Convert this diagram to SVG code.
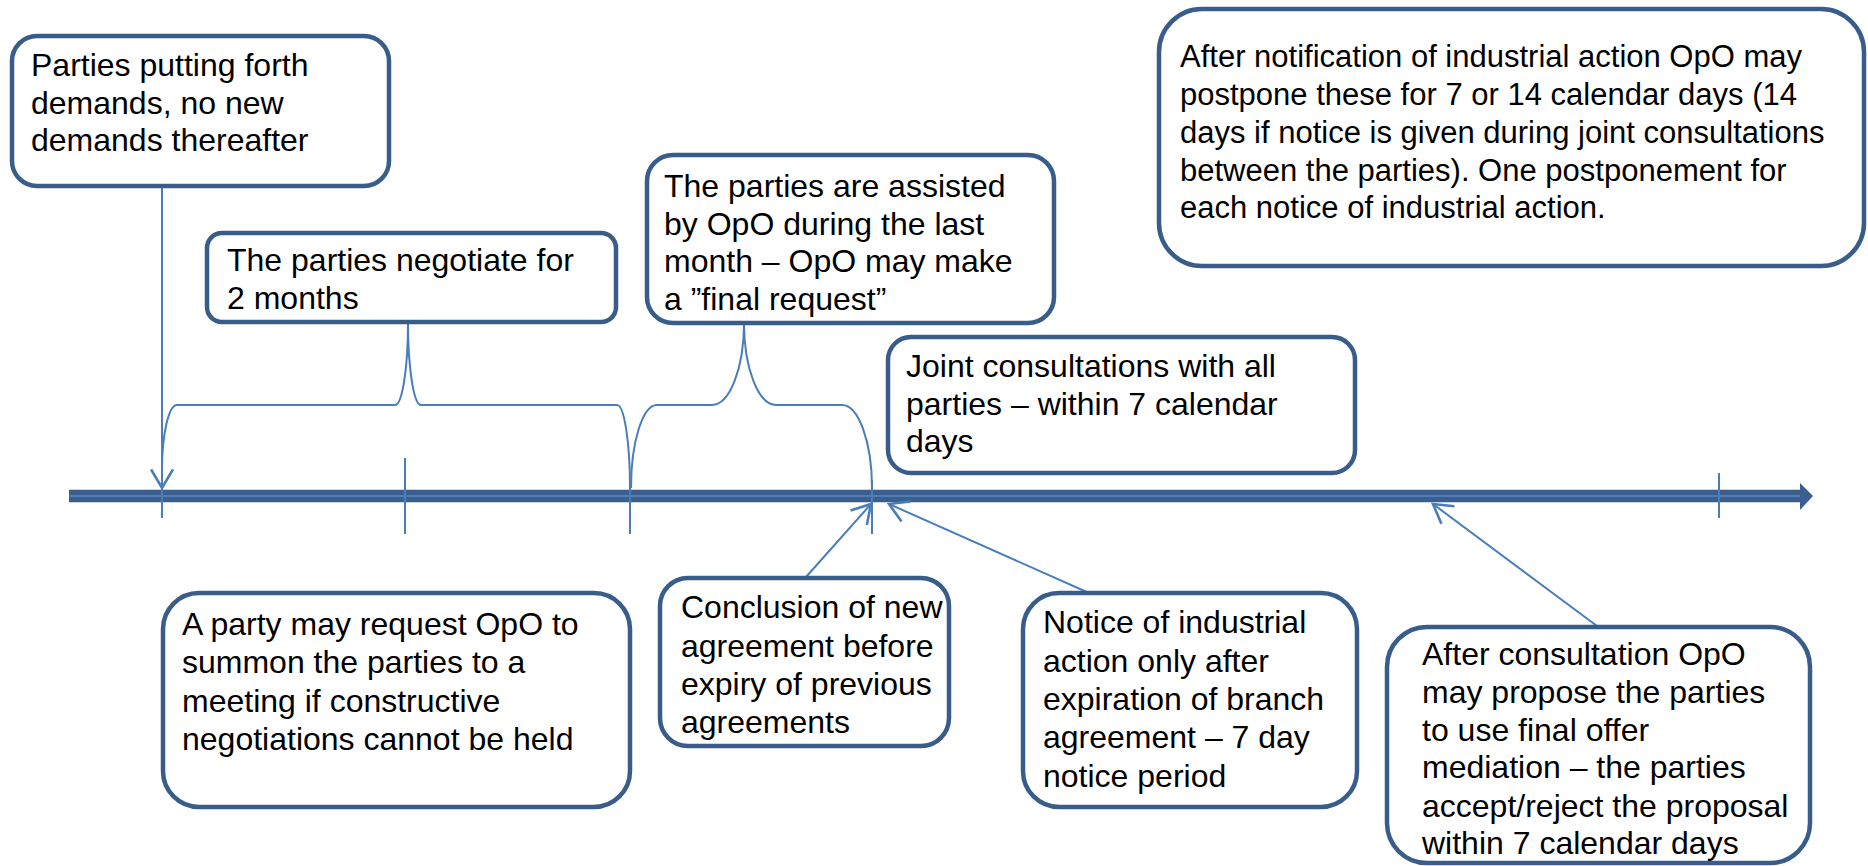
<svg xmlns="http://www.w3.org/2000/svg" width="1868" height="866" viewBox="0 0 1868 866">
<defs>
<style>
.box{fill:#fff;stroke:#385D8A;stroke-width:4.5}
.t{font-family:"Liberation Sans",Arial,sans-serif;font-size:32px;fill:#000}
.t31{font-size:31px}
.c{fill:none;stroke:#4A7EBB;stroke-width:2}
</style>
<marker id="ah" markerUnits="userSpaceOnUse" markerWidth="24" markerHeight="24" refX="18" refY="11" orient="auto" viewBox="0 0 22 22">
<path d="M1,1 L18,11 L1,21" fill="none" stroke="#4A7EBB" stroke-width="2.4"/>
</marker>
</defs>
<rect width="1868" height="866" fill="#fff"/>

<g id="connectors">
<!-- axis -->
<line x1="69" y1="496" x2="1802" y2="496" stroke="#3A5F8F" stroke-width="12.5"/>
<line x1="69" y1="496" x2="1802" y2="496" stroke="#5A86C0" stroke-width="1.6"/>
<path d="M1800,483 L1813,496 L1800,510 Z" fill="#3A5F8F"/>
<!-- ticks -->
<line class="c" x1="162" y1="470" x2="162" y2="518"/>
<line class="c" x1="405" y1="458" x2="405" y2="534"/>
<line class="c" x1="630" y1="480" x2="630" y2="534"/>
<line class="c" x1="872" y1="480" x2="872" y2="534"/>
<line class="c" x1="1719" y1="473" x2="1719" y2="518"/>
<!-- braces -->
<path class="c" d="M162,470 A15,65 0 0 1 177,405 L395,405 A13,82 0 0 0 408,323 A13,82 0 0 0 421,405 L617,405 A13,83 0 0 1 630,488"/>
<path class="c" d="M631,488 A26,83 0 0 1 657,405 L712,405 A32,82 0 0 0 744,323 A32,82 0 0 0 776,405 L842,405 A30,83 0 0 1 872,488"/>
<!-- arrows -->
<line class="c" x1="162" y1="187" x2="162" y2="488" marker-end="url(#ah)"/>
<line class="c" x1="806" y1="577" x2="871" y2="504" marker-end="url(#ah)"/>
<line class="c" x1="1089" y1="593" x2="889" y2="504" marker-end="url(#ah)"/>
<line class="c" x1="1597" y1="626" x2="1433" y2="504" marker-end="url(#ah)"/>
</g>

<g id="n1">
<rect class="box" x="12" y="36" width="377" height="150" rx="25"/>
<text class="t"><tspan x="31" y="76">Parties putting forth</tspan><tspan x="31" y="114">demands, no new</tspan><tspan x="31" y="151">demands thereafter</tspan></text>
</g>
<g id="n2">
<rect class="box" x="207" y="233" width="409" height="89" rx="15"/>
<text class="t"><tspan x="227" y="271">The parties negotiate for</tspan><tspan x="227" y="309">2 months</tspan></text>
</g>
<g id="n3">
<rect class="box" x="647" y="155" width="407" height="168" rx="26"/>
<text class="t"><tspan x="664" y="197">The parties are assisted</tspan><tspan x="664" y="235">by OpO during the last</tspan><tspan x="664" y="272">month – OpO may make</tspan><tspan x="664" y="310">a ”final request”</tspan></text>
</g>
<g id="n4">
<rect class="box" x="888" y="337" width="467" height="136" rx="23"/>
<text class="t"><tspan x="906" y="377">Joint consultations with all</tspan><tspan x="906" y="415">parties – within 7 calendar</tspan><tspan x="906" y="452">days</tspan></text>
</g>
<g id="n5">
<rect class="box" x="1159" y="9" width="705" height="257" rx="43"/>
<text class="t t31"><tspan x="1180" y="67">After notification of industrial action OpO may</tspan><tspan x="1180" y="105">postpone these for 7 or 14 calendar days (14</tspan><tspan x="1180" y="143">days if notice is given during joint consultations</tspan><tspan x="1180" y="181">between the parties). One postponement for</tspan><tspan x="1180" y="218">each notice of industrial action.</tspan></text>
</g>
<g id="n6">
<rect class="box" x="163" y="593" width="467" height="214" rx="36"/>
<text class="t"><tspan x="182" y="635">A party may request OpO to</tspan><tspan x="182" y="673">summon the parties to a</tspan><tspan x="182" y="712">meeting if constructive</tspan><tspan x="182" y="750">negotiations cannot be held</tspan></text>
</g>
<g id="n7">
<rect class="box" x="660" y="578" width="289" height="168" rx="28"/>
<text class="t"><tspan x="681" y="618">Conclusion of new</tspan><tspan x="681" y="657">agreement before</tspan><tspan x="681" y="695">expiry of previous</tspan><tspan x="681" y="733">agreements</tspan></text>
</g>
<g id="n8">
<rect class="box" x="1023" y="593" width="334" height="214" rx="36"/>
<text class="t"><tspan x="1043" y="633">Notice of industrial</tspan><tspan x="1043" y="672">action only after</tspan><tspan x="1043" y="710">expiration of branch</tspan><tspan x="1043" y="748">agreement – 7 day</tspan><tspan x="1043" y="787">notice period</tspan></text>
</g>
<g id="n9">
<rect class="box" x="1387" y="627" width="423" height="236" rx="40"/>
<text class="t"><tspan x="1422" y="665">After consultation OpO</tspan><tspan x="1422" y="703">may propose the parties</tspan><tspan x="1422" y="741">to use final offer</tspan><tspan x="1422" y="778">mediation – the parties</tspan><tspan x="1422" y="817">accept/reject the proposal</tspan><tspan x="1422" y="854">within 7 calendar days</tspan></text>
</g>
</svg>
